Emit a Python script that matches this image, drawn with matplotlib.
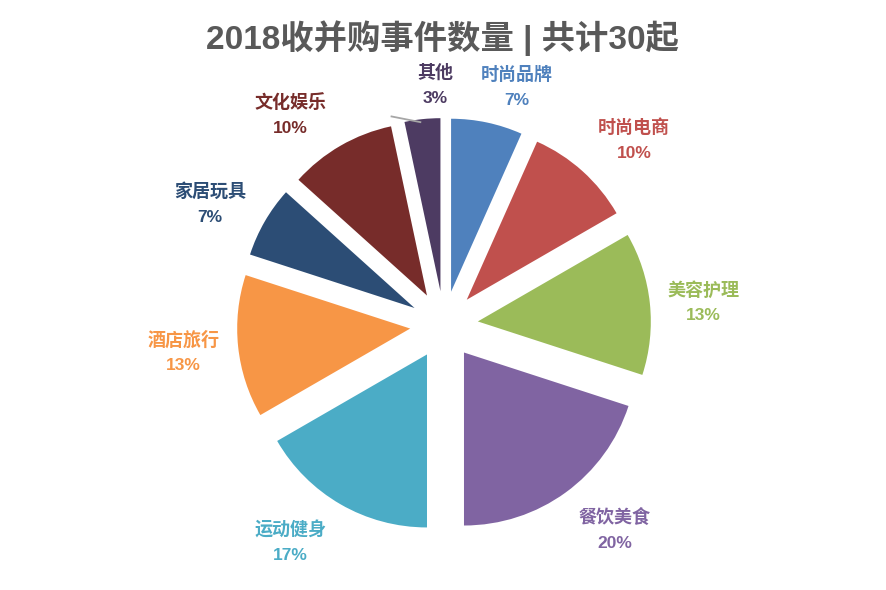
import numpy as np
import matplotlib.pyplot as plt

plt.rcParams['font.family'] = ['Liberation Sans', 'Noto Sans CJK SC', 'DejaVu Sans']

labels = ['时尚品牌', '时尚电商', '美容护理', '餐饮美食', '运动健身', '酒店旅行', '家居玩具', '文化娱乐', '其他']
counts = [2, 3, 4, 6, 5, 4, 2, 3, 1]
colors = ['#4F81BD', '#C0504D', '#9BBB59', '#8064A2', '#4BACC6', '#F79646', '#2C4D75', '#772C2A', '#4D3B62']

W, H = 886, 590
fig = plt.figure(figsize=(W / 100, H / 100), dpi=100)
ax = fig.add_axes([0, 0, 1, 1])

cx, cy = 444, H - 325
R = 173
exp = 34  # offset in data units (pixels)
total = sum(counts)

ax.pie(counts, colors=colors, startangle=90, counterclock=False,
       center=(cx, cy), radius=R, explode=[exp] * len(counts),
       wedgeprops=dict(linewidth=0))
ax.set_xlim(0, W)
ax.set_ylim(0, H)
ax.set_aspect('auto')
ax.axis('off')

# labels sit around the mid-angle, nudged like excel's best fit
nudge = {0: (18, -20), 1: (14, -11), 2: (-2, -5), 3: (16, 7.5), 4: (-22, 10.5),
         5: (1, 0), 6: (-6, -11), 7: (-22, -18), 8: (19, -22)}
start = 90.0
for i, (lab, c, col) in enumerate(zip(labels, counts, colors)):
    span = 360.0 * c / total
    mid = np.deg2rad(start - span / 2)
    start -= span
    dx, dy = nudge[i]
    x = cx + 263 * np.cos(mid) + dx
    y = cy + 263 * np.sin(mid) + dy
    pct = '%d%%' % round(100 * c / total)
    ax.text(x, y + 12, lab, ha='center', va='center', fontsize=13, color=col, fontweight='bold')
    ax.text(x, y - 13, pct, ha='center', va='center', fontsize=12.5, color=col, fontweight='bold')
    if i == 8:
        # leader line to the small slice
        ex = cx + exp * np.cos(mid) + R * np.cos(mid)
        ey = cy + exp * np.sin(mid) + R * np.sin(mid)
        ax.plot([x - 44, ex - 2], [y - 31, ey - 3], color='#A6A6A6', lw=1.3)

fig.text(0.5, 1 - 38 / H, '2018收并购事件数量 | 共计30起', ha='center', va='center',
         fontsize=24, fontweight='bold', color='#595959')

fig.savefig('out.png', dpi=100)
